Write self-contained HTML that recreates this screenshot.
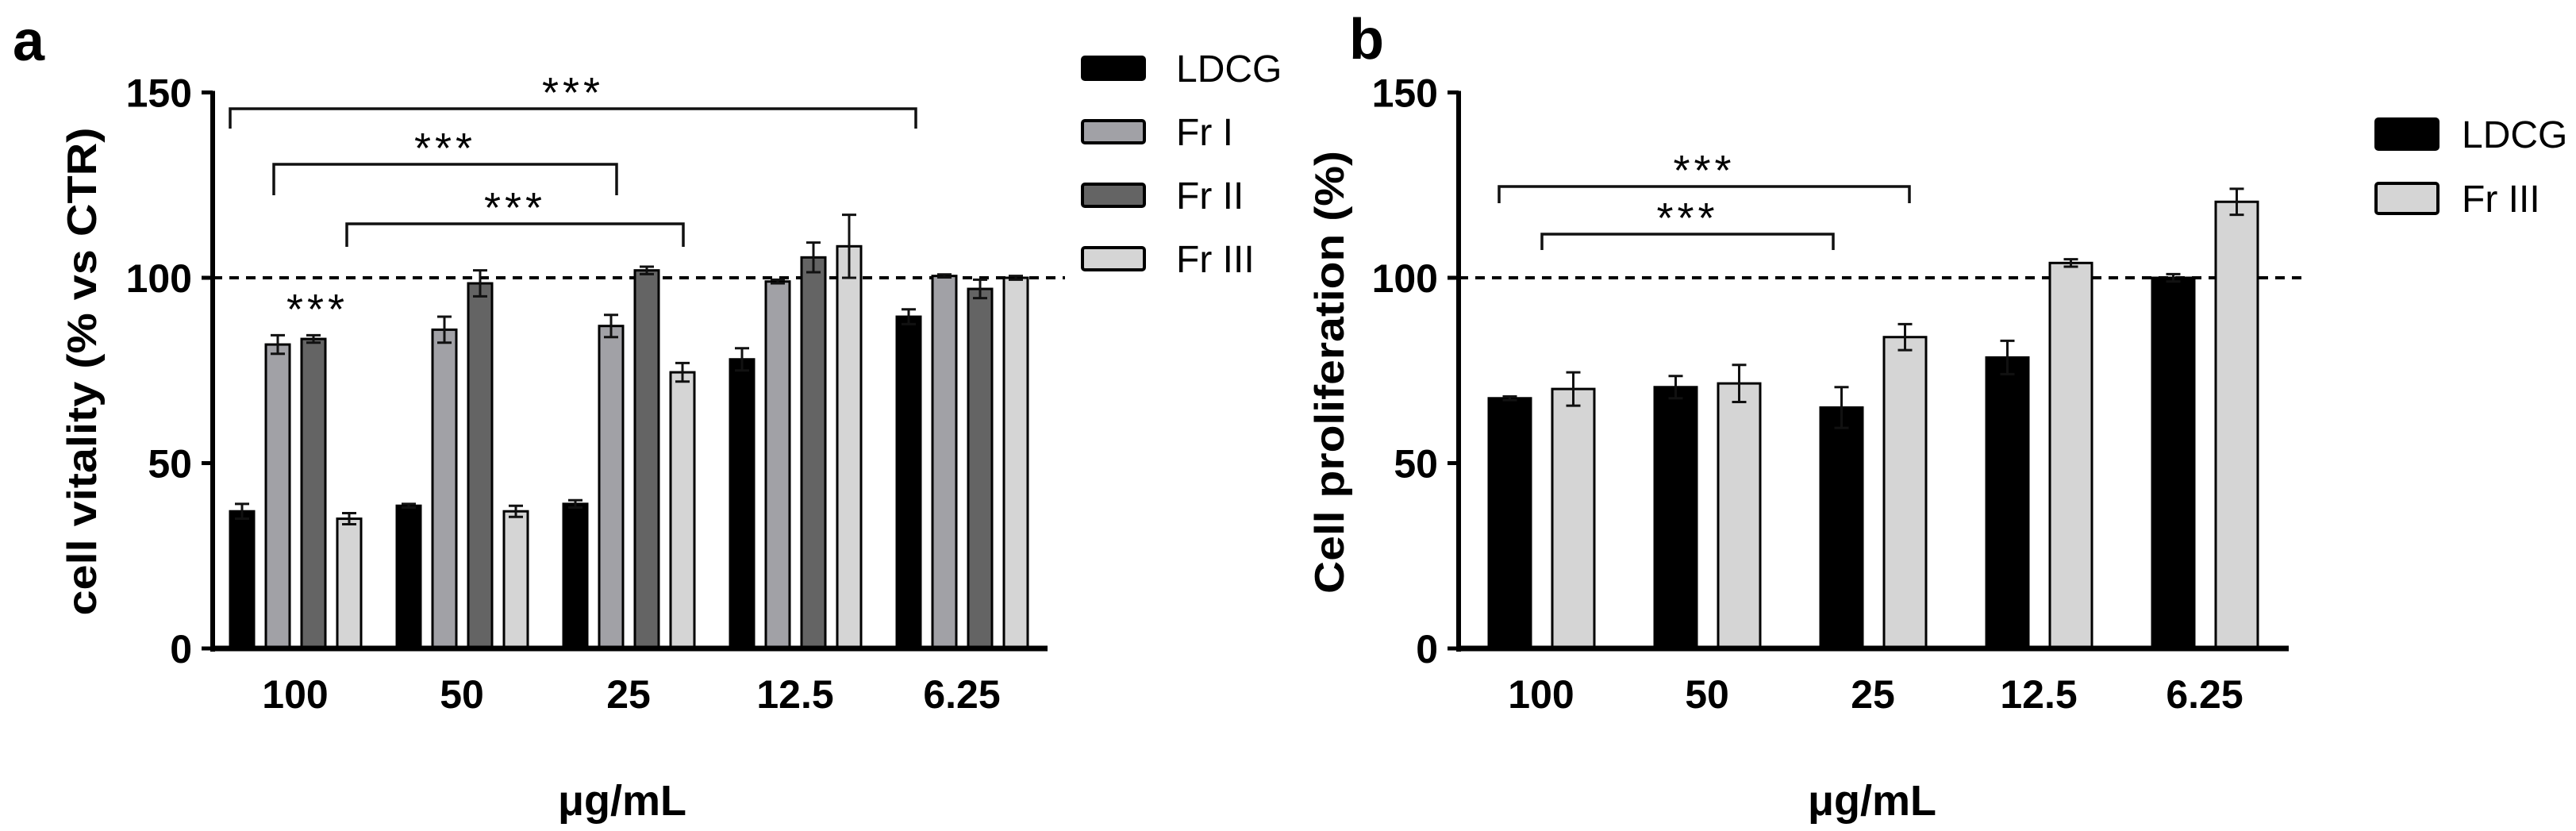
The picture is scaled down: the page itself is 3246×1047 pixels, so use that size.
<!DOCTYPE html>
<html><head><meta charset="utf-8"><style>
html,body{margin:0;padding:0;background:#fff;}
svg{display:block;}
text{font-family:"Liberation Sans",Arial,sans-serif;}
</style></head><body>
<svg id="chart" xmlns="http://www.w3.org/2000/svg" width="3246" height="1047" viewBox="0 0 3246 1047">
<g id="pa"></g>
<g id="pb"></g>
</svg>
<script>
const categories = ["100","50","25","12.5","6.25"];
const yTicks = [0,50,100,150];
// Panel a
const aLDCG = [37,38.5,39,78,89.5];
const aFrI = [82,86,87,99,100.5];
const aFrII = [83.5,98.5,102,105.5,97];
const aFrIII = [35,37,74.5,108.5,100];
const aLDCGerr = [2,0.5,1,3,2];
const aFrIerr = [2.5,3.5,3,0.5,0.4];
const aFrIIerr = [1,3.5,1,4,2.5];
const aFrIIIerr = [1.5,1.5,2.5,8.5,0.5];
// Panel b
const bLDCG = [67.5,70.5,65,78.5,100];
const bFrIII = [70,71.5,84,104,120.5];
const bLDCGerr = [0.5,3,5.5,4.5,1];
const bFrIIIerr = [4.5,5,3.5,1,3.5];

const NS="http://www.w3.org/2000/svg";
function mk(parent,tag,attrs,txt){const e=document.createElementNS(NS,tag);for(const k in attrs)e.setAttribute(k,attrs[k]);if(txt!==undefined)e.textContent=txt;parent.appendChild(e);return e;}
const y0=817, y100=350;
function yS(v){return y0-(y0-y100)*v/100;}

function panel(g,o){
  const yv=yS;
  let l=mk(g,'line',{x1:o.ax,x2:o.dashEnd,y1:yv(100),y2:yv(100),stroke:'#000','stroke-width':4,'stroke-dasharray':'12,9'});
  
  
  o.series.forEach((s,si)=>{
    s.vals.forEach((v,i)=>{
      const x=o.start+o.gap*i+o.off[si];
      const r=mk(g,'rect',{x:x,y:yv(v),width:o.bw,height:y0-yv(v),fill:s.color,stroke:'#000','stroke-width':3});
      
      
      const cx=x+o.bw/2, e=s.err[i];
      const eb=mk(g,'path',{d:`M${cx},${yv(v+e)}V${yv(v-e)}M${cx-9},${yv(v+e)}H${cx+9}M${cx-9},${yv(v-e)}H${cx+9}`,stroke:'#111','stroke-width':3,fill:'none'});
      
      
    });
  });
  let ya=mk(g,'line',{x1:o.ax,x2:o.ax,y1:yv(150)-2,y2:y0+4,stroke:'#000','stroke-width':6});
  
  
  let xa=mk(g,'line',{x1:o.ax-3,x2:o.axEnd,y1:y0,y2:y0,stroke:'#000','stroke-width':7});
  
  
  yTicks.forEach(t=>{
    mk(g,'line',{x1:o.ax-14,x2:o.ax,y1:yv(t),y2:yv(t),stroke:'#000','stroke-width':5});
    const tx=mk(g,'text',{x:o.ax-26,y:yv(t)+18,'text-anchor':'end','font-size':50,'font-weight':'bold'},String(t));
    
    
  });
  categories.forEach((c,i)=>{
    const tx=mk(g,'text',{x:o.start+o.gap*i+o.center,y:892,'text-anchor':'middle','font-size':50,'font-weight':'bold'},c);
    
    
  });
  o.brackets.forEach(b=>{
    const p=mk(g,'path',{d:`M${b[0]},${b[3]}V${b[2]}H${b[1]}V${b[3]}`,stroke:'#111','stroke-width':3.5,fill:'none'});
    
    
    const s=mk(g,'text',{x:(b[0]+b[1])/2,y:b[2]-2,'text-anchor':'middle','font-size':54,'letter-spacing':5},'***');
    
    
  });
  o.series.forEach((s,si)=>{
    const ly=o.legY+si*o.legStep;
    const r=mk(g,'rect',{x:o.legX,y:ly,width:o.legW,height:o.legH,fill:s.color,stroke:'#000','stroke-width':4,rx:3});
    
    
    const t=mk(g,'text',{x:o.legX+o.legW+o.legGap,y:ly+o.legH/2+17,'font-size':o.legFont},s.name);
    
    
  });
}

const pa=document.getElementById('pa');
panel(pa,{ax:268,axEnd:1320,dashEnd:1342,start:290,gap:210,bw:30,off:[0,45,90,135],center:82,
  series:[{key:'ldcg',name:'LDCG',color:'#000',vals:aLDCG,err:aLDCGerr},
          {key:'fr-i',name:'Fr I',color:'#a1a1a6',vals:aFrI,err:aFrIerr},
          {key:'fr-ii',name:'Fr II',color:'#646464',vals:aFrII,err:aFrIIerr},
          {key:'fr-iii',name:'Fr III',color:'#d5d5d5',vals:aFrIII,err:aFrIIIerr}],
  brackets:[[290,1154,137,162],[345,777,207,246],[437,861,282,311]],
  legX:1364,legY:72,legStep:80,legW:78,legH:28,legFont:48,legGap:40});
let st=mk(pa,'text',{x:400,y:408,'text-anchor':'middle','font-size':54,'letter-spacing':5},'***');


let ta=mk(pa,'text',{x:16,y:76,'font-size':72,'font-weight':'bold'},'a');


let yta=mk(pa,'text',{x:0,y:0,'text-anchor':'middle','font-size':52,'font-weight':'bold',transform:'translate(121,468) rotate(-90)',textLength:615,lengthAdjust:'spacingAndGlyphs'},'cell vitality (% vs CTR)');


let xta=mk(pa,'text',{x:784,y:1027,'text-anchor':'middle','font-size':54,'font-weight':'bold'},'μg/mL');



const pb=document.getElementById('pb');
panel(pb,{ax:1838,axEnd:2884,dashEnd:2900,start:1876,gap:209,bw:53,off:[0,80],center:66,
  series:[{key:'ldcg',name:'LDCG',color:'#000',vals:bLDCG,err:bLDCGerr},
          {key:'fr-iii',name:'Fr III',color:'#d5d5d5',vals:bFrIII,err:bFrIIIerr}],
  brackets:[[1889,2406,235,256],[1943,2310,295,315]],
  legX:2994,legY:150,legStep:81,legW:78,legH:38,legFont:48,legGap:30});
let tb=mk(pb,'text',{x:1700,y:74,'font-size':72,'font-weight':'bold'},'b');


let ytb=mk(pb,'text',{x:0,y:0,'text-anchor':'middle','font-size':52,'font-weight':'bold',transform:'translate(1693,469) rotate(-90)',textLength:558,lengthAdjust:'spacingAndGlyphs'},'Cell proliferation (%)');


let xtb=mk(pb,'text',{x:2359,y:1027,'text-anchor':'middle','font-size':54,'font-weight':'bold'},'μg/mL');


</script>
</body></html>
